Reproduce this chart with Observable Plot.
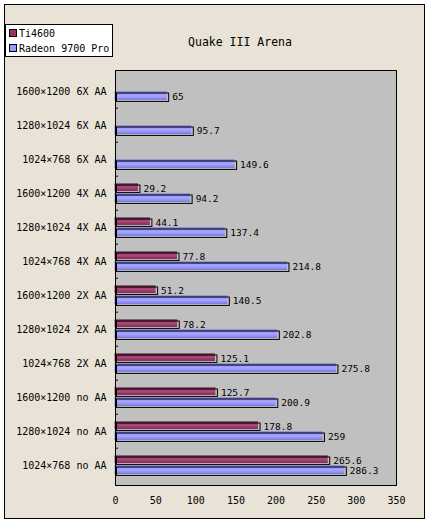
<!DOCTYPE html>
<html lang="en">
  <head>
    <meta charset="UTF-8" />
    <title>Quake III Arena</title>
    <style>
      body { margin: 0; background: #fff; }
      #wrap { position: relative; width: 430px; height: 524px; }
      #paper {
        position: absolute; left: 4px; top: 4px; width: 419px; height: 513px;
        background: #e9e3d7; border: 1px solid #000;
      }
      #chart { position: absolute; left: 0; top: 0; }
      #chart svg { background: none; overflow: visible; }
      #legend {
        position: absolute; left: 5px; top: 24px; width: 106px; height: 31px;
        background: #fff; border: 1px solid #000;
        font: 10px "DejaVu Sans Mono", monospace;
      }
      #legend div { position: absolute; left: 3px; height: 12px; line-height: 12px; white-space: nowrap; }
      #legend span.sw {
        display: inline-block; width: 6px; height: 6px; border: 1px solid #000;
        margin-right: 2px; vertical-align: 0px;
      }
      #title {
        position: absolute; left: 115px; width: 250px; top: 35px; text-align: center;
        font: 11.5px "DejaVu Sans Mono", monospace;
      }
    </style>
  </head>
  <body>
    <div id="wrap">
      <div id="paper"></div>
      <div id="chart"></div>
      <div id="title"></div>
      <div id="legend"></div>
    </div>

    <script src="https://cdn.jsdelivr.net/npm/d3@7"></script>
    <script src="https://cdn.jsdelivr.net/npm/@observablehq/plot@0.6"></script>

    <script>
      const title = "Quake III Arena";
      const series = ["Ti4600", "Radeon 9700 Pro"];
      const swatches = ["#993366", "#9999ff"];
      const settings = [
        "1600×1200 6X AA", "1280×1024 6X AA", "1024×768 6X AA",
        "1600×1200 4X AA", "1280×1024 4X AA", "1024×768 4X AA",
        "1600×1200 2X AA", "1280×1024 2X AA", "1024×768 2X AA",
        "1600×1200 no AA", "1280×1024 no AA", "1024×768 no AA"
      ];
      const ti4600 = [null, null, null, 29.2, 44.1, 77.8, 51.2, 78.2, 125.1, 125.7, 178.8, 265.6];
      const radeon = [65, 95.7, 149.6, 94.2, 137.4, 214.8, 140.5, 202.8, 275.8, 200.9, 259, 286.3];
      const xTicks = [0, 50, 100, 150, 200, 250, 300, 350];

      const tiData = settings.map((s, i) => ({ s, v: ti4600[i] })).filter(d => d.v != null);
      const raData = settings.map((s, i) => ({ s, v: radeon[i] }));

      const plotTop = 70, plotBottom = 485;
      const bw = (plotBottom - plotTop) / settings.length;
      const font = "DejaVu Sans Mono";

      const bars = (data, fill, y0, y1) => [
        Plot.barX(data, { x: "v", y: "s", fill, insetTop: y0, insetBottom: bw - y1, dx: -0.5 }),
        Plot.barX(data, {
          x: "v", y: "s", fill: "none", stroke: "black", strokeWidth: 1,
          insetTop: y0, insetBottom: bw - y1, dx: 1.5, dy: 1.5
        })
      ];

      const labels = (data, dy) =>
        Plot.text(data, {
          x: "v", y: "s", text: d => String(d.v), textAnchor: "start",
          dx: 4.5, dy, fontSize: 9.5, fontFamily: font, fill: "black"
        });

      const plot = Plot.plot({
        width: 430,
        height: 524,
        marginLeft: 115,
        marginRight: 34,
        marginTop: plotTop,
        marginBottom: 524 - plotBottom,
        style: { fontFamily: font, fontSize: "10px", color: "black", background: "none" },
        x: { domain: [0, 350], ticks: xTicks, label: null },
        y: { domain: settings, padding: 0, label: null },
        marks: [
          Plot.frame({ fill: "#c0c0c0", stroke: "none" }),
          ...bars(tiData, "url(#gTi)", 7.5, 15.5),
          ...bars(raData, "url(#gRa)", 17.5, 26.5),
          labels(tiData, -4.5),
          labels(raData, 5.5),
          Plot.ruleY(settings.slice(1), { y: d => d, x1: 0, x2: 3 / 0.803, dy: -bw / 2, stroke: "black" }),
          Plot.ruleX(xTicks, { x: d => d, y: () => settings[settings.length - 1], insetTop: bw - 3, stroke: "black" }),
          Plot.frame({ stroke: "black" }),
          Plot.axisY({ tickSize: 0, tickPadding: 9, fontSize: 10, fontFamily: font }),
          Plot.axisX({ tickSize: 0, tickPadding: 11, fontSize: 10, fontFamily: font, ticks: xTicks })
        ]
      });

      // gradients for the shaded bars
      const defs = d3.select(plot).insert("defs", ":first-child");
      const grad = (id, stops) => {
        const g = defs.append("linearGradient").attr("id", id)
          .attr("x1", 0).attr("y1", 0).attr("x2", 0).attr("y2", 1);
        stops.forEach(([o, c]) => g.append("stop").attr("offset", o).attr("stop-color", c));
      };
      grad("gTi", [[0, "#3a0c22"], [0.15, "#8e2d5c"], [0.5, "#ac4c7e"], [0.85, "#922f60"], [1, "#7a2450"]]);
      grad("gRa", [[0, "#6a6ad8"], [0.2, "#8c8cf2"], [0.5, "#a8a8ff"], [0.85, "#8a8aee"], [1, "#7070dd"]]);

      document.querySelector("#chart").append(plot);
      document.querySelector("#title").textContent = title;

      const legend = document.querySelector("#legend");
      series.forEach((name, i) => {
        const row = document.createElement("div");
        row.style.top = (3 + i * 15) + "px";
        row.innerHTML = `<span class="sw" style="background:${swatches[i]}"></span>${name}`;
        legend.append(row);
      });
    </script>
  </body>
</html>
